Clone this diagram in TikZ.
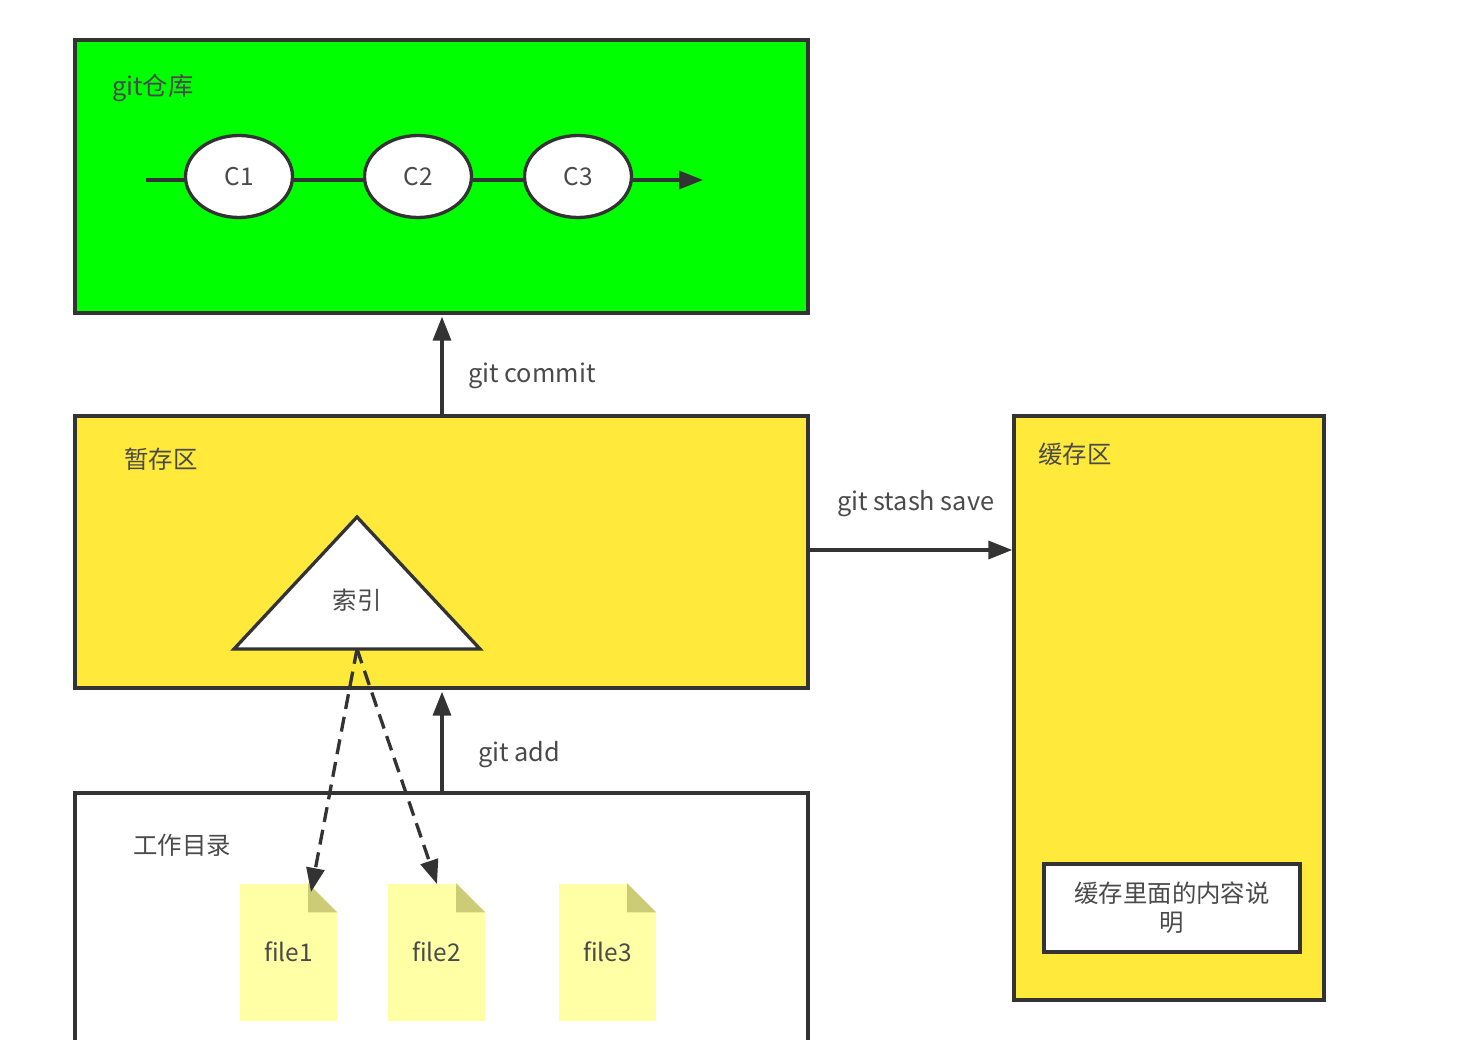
\documentclass[tikz,border=0pt]{standalone}
\usepackage{fontspec}
\setmainfont{Noto Sans CJK SC}
\usetikzlibrary{arrows.meta,shapes.geometric}
\definecolor{ink}{HTML}{333333}
\definecolor{txt}{HTML}{4A4A4A}
\definecolor{gitgreen}{HTML}{00FF00}
\definecolor{stageyellow}{HTML}{FFE93B}
\definecolor{notefill}{HTML}{FFFFA6}
\definecolor{notefold}{HTML}{CCCC77}
\tikzset{
  x=1pt,y=-1pt,
  every node/.style={text=txt,font=\fontsize{24.4}{30}\selectfont},
  areabox/.style={draw=ink,line width=3.3pt,rectangle,inner sep=0pt,minimum width=#1},
  commit/.style={draw=ink,fill=white,line width=3.3pt,ellipse,inner sep=0pt,minimum width=107pt,minimum height=82pt},
  filenote/.style={rectangle,inner sep=0pt,minimum width=97pt,minimum height=137pt,fill=notefill},
  fold/.style={fill=white},
  foldshade/.style={fill=notefold},
  conn/.style={draw=ink,line width=3.3pt},
  arrow/.style={conn,-{Triangle[length=24pt,width=18pt]}},
  dasharrow/.style={arrow,dash pattern=on 15pt off 8pt},
  label/.style={anchor=west,inner sep=0pt},
  latinlabel/.style={label,font=\fontsize{25.3}{30}\selectfont},
}
\newcommand{\filenode}[4]{% name, x center, text, unused
  \node[filenote] (#1) at (#2,952) {\raisebox{0pt}{#3}};
  \fill[fold] ([xshift=-29pt]#1.north east) -- (#1.north east) -- ([yshift=-29pt]#1.north east) -- cycle;
  \fill[foldshade] ([xshift=-29pt]#1.north east) -- ([xshift=-29pt,yshift=-29pt]#1.north east) -- ([yshift=-29pt]#1.north east) -- cycle;
}
\begin{document}
\begin{tikzpicture}
\useasboundingbox (0,0) rectangle (1465,1040);
\clip (0,0) rectangle (1465,1040);
% area boxes
\node[areabox=733pt,minimum height=273pt,fill=gitgreen] (repo) at (441.5,176.5) {};
\node[areabox=733pt,minimum height=272pt,fill=stageyellow] (stage) at (441.5,552) {};
\node[areabox=733pt,minimum height=287pt,fill=white] (work) at (441.5,936.5) {};
\node[areabox=310pt,minimum height=584pt,fill=stageyellow] (stash) at (1169,708) {};
\node[areabox=256pt,minimum height=88pt,fill=white,align=center,text width=240pt,font=\fontsize{24.4}{29}\selectfont] (note) at (1172,908) {缓存里面的内容说\\明};
% labels
\node[latinlabel] (lrepo) at (112,88) {git仓库};
\node[label] (lstage) at (124,459) {暂存区};
\node[label] (lwork) at (133,845.5) {工作目录};
\node[label] (lstash) at (1038,454) {缓存区};
\node[latinlabel] (lcommit) at (468,376) {git commit};
\node[latinlabel] (ladd) at (478,755) {git add};
\node[latinlabel] (lsave) at (837,504) {git stash save};
% commits
\coordinate (cstart) at (146,180);
\coordinate (cend) at (703,180);
\node[commit] (c1) at (239,176.5) {C1};
\node[commit] (c2) at (418,176.5) {C2};
\node[commit] (c3) at (578,176.5) {C3};
\begin{scope}[on background layer/.style={}]
\draw[conn] (cstart) -- (cstart -| c1.west);
\draw[conn] (cstart -| c1.east) -- (cstart -| c2.west);
\draw[conn] (cstart -| c2.east) -- (cstart -| c3.west);
\draw[arrow] (cstart -| c3.east) -- (cend);
\end{scope}
% index triangle
\coordinate (tritop) at (357,517);
\coordinate (trileft) at (234,649);
\coordinate (triright) at (480,649);
\coordinate (tribase) at (357,649);
\draw[ink,fill=white,line width=3.3pt,line join=miter] (tritop) -- (trileft) -- (triright) -- cycle;
\node (index) at (357,600) {索引};
% files
\filenode{f1}{288.5}{file1}{}
\filenode{f2}{436.5}{file2}{}
\filenode{f3}{607.5}{file3}{}
\coordinate (t1) at (311,892);
\coordinate (t2) at (437,884);
% connectors
\draw[arrow,shorten >=2pt] ([xshift=0.5pt]stage.north) -- ([xshift=0.5pt]repo.south);
\draw[arrow,shorten >=2pt] ([xshift=0.5pt]work.north) -- ([xshift=0.5pt]stage.south);
\draw[arrow] ([yshift=2pt]stage.east) -- ([yshift=2pt]stage.east -| stash.west);
\draw[dasharrow] (tribase) -- (t1);
\draw[dasharrow] (tribase) -- (t2);
\end{tikzpicture}
\end{document}
